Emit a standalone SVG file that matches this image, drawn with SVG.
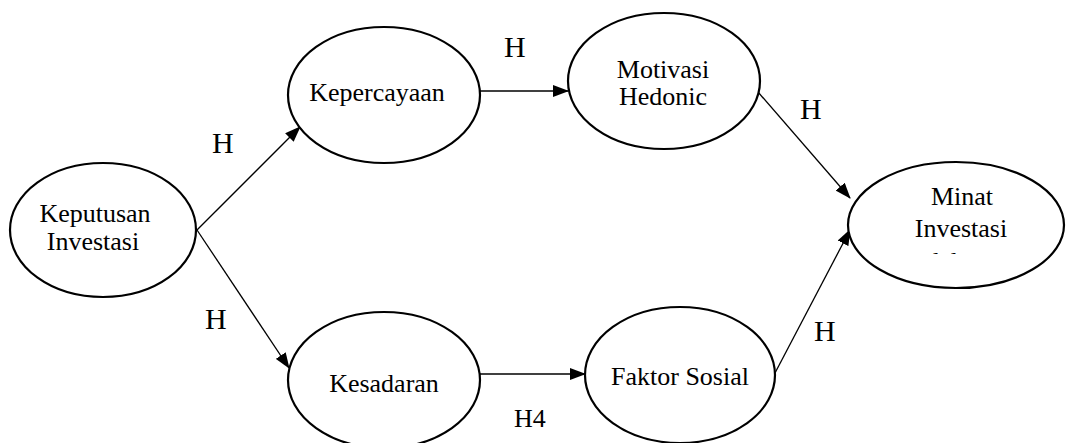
<svg xmlns="http://www.w3.org/2000/svg" width="1067" height="443" viewBox="0 0 1067 443">
<style>
.node{fill:#fff;stroke:#000;stroke-width:2.2}
.t{font-family:"Liberation Serif","Times New Roman",serif;font-size:26px;fill:#000;text-anchor:middle}
.h{font-family:"Liberation Serif","Times New Roman",serif;font-size:30px;fill:#000}
.h4{font-family:"Liberation Serif","Times New Roman",serif;font-size:26px;fill:#000}
.c{stroke:#000;stroke-width:1.3;fill:none;marker-end:url(#arr)}
</style>
<defs>
<marker id="arr" markerWidth="16" markerHeight="12" refX="15" refY="6" orient="auto" markerUnits="userSpaceOnUse">
<path d="M0,0 L16,6 L0,12 Z" fill="#000"/>
</marker>
<clipPath id="minatclip"><rect x="840" y="150" width="227" height="104"/></clipPath>
</defs>
<rect width="1067" height="443" fill="#fff"/>
<g id="connectors">
<line class="c" x1="197" y1="230" x2="300" y2="127"/>
<line class="c" x1="197" y1="230" x2="289" y2="368"/>
<line class="c" x1="480" y1="91" x2="568" y2="91"/>
<line class="c" x1="758" y1="92" x2="850" y2="198"/>
<line class="c" x1="480" y1="374" x2="585" y2="374"/>
<line class="c" x1="775" y1="373" x2="850" y2="230"/>
</g>
<g id="keputusan">
<ellipse class="node" cx="103" cy="230" rx="93" ry="67"/>
<text class="t" x="95" y="222">Keputusan</text>
<text class="t" x="93" y="250">Investasi</text>
</g>
<g id="kepercayaan">
<ellipse class="node" cx="384" cy="95" rx="96" ry="68"/>
<text class="t" x="377" y="101">Kepercayaan</text>
</g>
<g id="motivasi">
<ellipse class="node" cx="664" cy="81" rx="96" ry="68"/>
<text class="t" x="663" y="78">Motivasi</text>
<text class="t" x="663" y="105">Hedonic</text>
</g>
<g id="kesadaran">
<ellipse class="node" cx="384" cy="380" rx="96" ry="68"/>
<text class="t" x="384" y="392">Kesadaran</text>
</g>
<g id="faktor">
<ellipse class="node" cx="680" cy="375" rx="95" ry="68"/>
<text class="t" x="680" y="385">Faktor Sosial</text>
</g>
<g id="minat">
<ellipse class="node" cx="956" cy="225" rx="108" ry="63"/>
<text class="t" x="962" y="205">Minat</text>
<text class="t" x="961" y="237">Investasi</text>
<text class="t" x="958" y="270" clip-path="url(#minatclip)">dalam</text>
</g>
<g id="labels">
<text class="h" x="212" y="153">H</text>
<text class="h" x="504" y="57">H</text>
<text class="h" x="800" y="119">H</text>
<text class="h" x="205" y="329">H</text>
<text class="h" x="814" y="341">H</text>
<text class="h4" x="514" y="427">H4</text>
</g>
</svg>
